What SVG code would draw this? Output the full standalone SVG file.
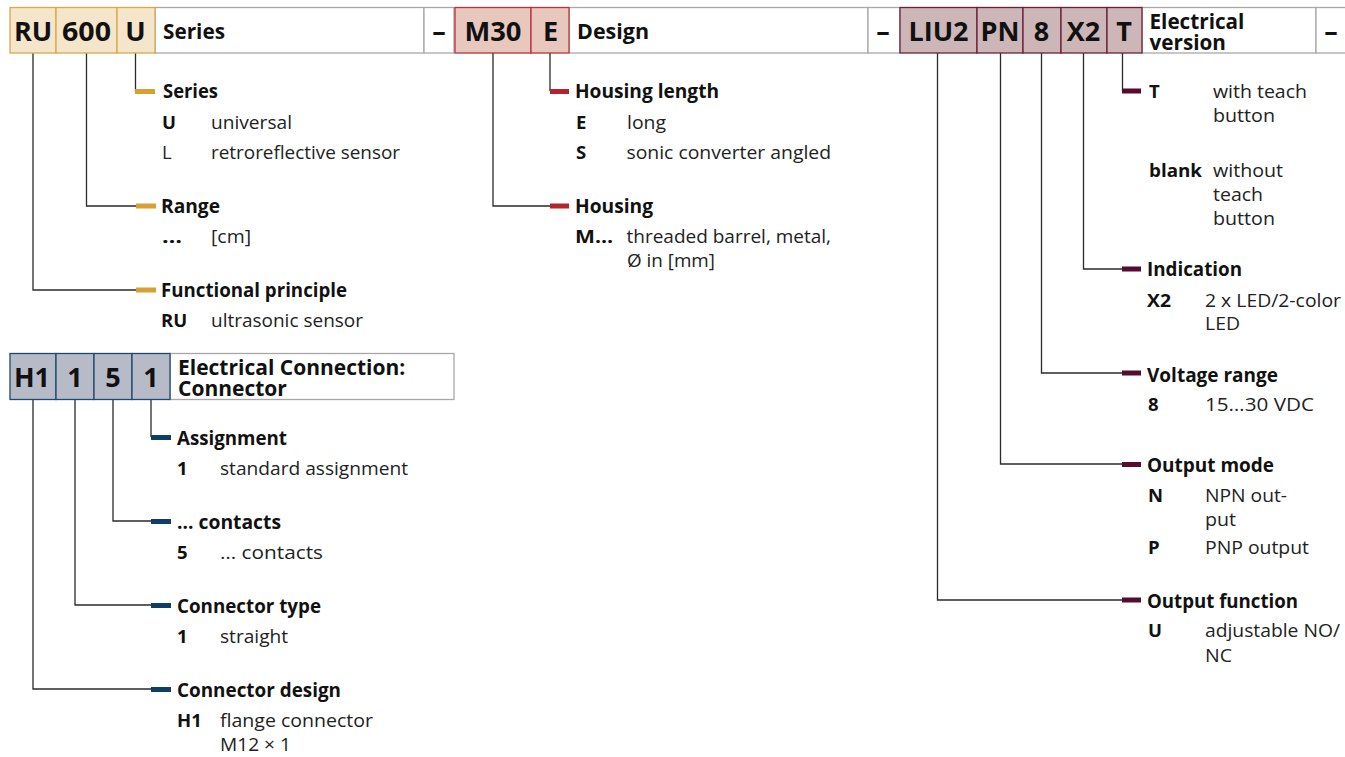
<svg xmlns="http://www.w3.org/2000/svg" width="1345" height="757" viewBox="0 0 1345 757">
<style>
text{font-family:"Open Sans","Noto Sans","Liberation Sans",sans-serif;fill:#111}
.w{fill:#fff;stroke:#a8a8a8;stroke-width:1.3}
.o{fill:#f4e5cb;stroke:#dba84a;stroke-width:1.3}
.r{fill:#e8c8bd;stroke:#b9323c;stroke-width:1.3}
.m{fill:#cdb6b8;stroke:#6b1f3c;stroke-width:1.3}
.b{fill:#b7bbc8;stroke:#1d4a6b;stroke-width:1.3}
.c{font-size:27px;font-weight:700;text-anchor:middle}
.t{font-size:21.5px;font-weight:700}
.x{font-size:27px;font-weight:700;text-anchor:middle}
.h{font-size:19.5px;font-weight:700}
.k{font-size:18.5px;font-weight:700}
.d{font-size:18.5px;font-weight:400;fill:#222}
.l{fill:none;stroke:#2a2a2a;stroke-width:1.3}
.bo{fill:#d99f33}.br{fill:#b5232f}.bm{fill:#560c30}.bb{fill:#0f3d63}
</style>
<g id="connectors">
<path class="l" d="M33 53V290H136"/><path class="l" d="M86.500 53V206H136"/><path class="l" d="M135.500 53V91H136"/>
<path class="l" d="M493 53V206H550"/><path class="l" d="M550 53V91"/>
<path class="l" d="M937.500 53V600H1122"/><path class="l" d="M1000.500 53V464H1122"/><path class="l" d="M1041.500 53V373H1122"/><path class="l" d="M1083.500 53V269H1122"/><path class="l" d="M1122.500 53V91"/>
<path class="l" d="M33 400V689H152"/><path class="l" d="M75 400V605H152"/><path class="l" d="M113 400V521H152"/><path class="l" d="M151 400V437"/>
<rect class="bo" x="135" y="89" width="20" height="5"/><rect class="bo" x="136" y="203.500" width="20" height="5"/><rect class="bo" x="136" y="287.500" width="20" height="5"/>
<rect class="br" x="550" y="89" width="19" height="5"/><rect class="br" x="550" y="203.500" width="19" height="5"/>
<rect class="bm" x="1122" y="88.500" width="19" height="5"/><rect class="bm" x="1122" y="266.500" width="19" height="5"/><rect class="bm" x="1122" y="370.500" width="19" height="5"/><rect class="bm" x="1122" y="462" width="19" height="5"/><rect class="bm" x="1122" y="597.500" width="19" height="5"/>
<rect class="bb" x="151" y="435" width="20" height="5"/><rect class="bb" x="151" y="519" width="20" height="5"/><rect class="bb" x="151" y="603" width="20" height="5"/><rect class="bb" x="151" y="687" width="20" height="5"/>
</g>
<g id="header-ru">
<rect class="w" x="155" y="7.500" width="269" height="45.500"/><rect class="w" x="424" y="7.500" width="30" height="45.500"/>
<rect class="o" x="10" y="7.500" width="46" height="45.500"/><rect class="o" x="56" y="7.500" width="61" height="45.500"/><rect class="o" x="117" y="7.500" width="38" height="45.500"/>
<text class="c" x="33" y="41">RU</text><text class="c" x="86.500" y="41" textLength="49" lengthAdjust="spacingAndGlyphs">600</text><text class="c" x="135.500" y="41">U</text>
<text class="t" x="163" y="39" textLength="62" lengthAdjust="spacingAndGlyphs">Series</text>
<text class="x" x="439" y="41">–</text>
</g>
<g id="header-m30">
<rect class="w" x="569" y="7.500" width="299" height="45.500"/><rect class="w" x="868" y="7.500" width="32" height="45.500"/>
<rect class="r" x="455" y="7.500" width="76" height="45.500"/><rect class="r" x="531" y="7.500" width="38" height="45.500"/>
<text class="c" x="493" y="41" textLength="57" lengthAdjust="spacingAndGlyphs">M30</text><text class="c" x="550.500" y="41">E</text>
<text class="t" x="577" y="39" textLength="72" lengthAdjust="spacingAndGlyphs">Design</text>
<text class="x" x="883" y="41">–</text>
</g>
<g id="header-liu">
<rect class="w" x="1142" y="7.500" width="174" height="45.500"/><rect class="w" x="1316" y="7.500" width="30" height="45.500"/>
<rect class="m" x="900" y="7.500" width="77" height="45.500"/><rect class="m" x="977" y="7.500" width="46" height="45.500"/><rect class="m" x="1023" y="7.500" width="38" height="45.500"/><rect class="m" x="1061" y="7.500" width="46" height="45.500"/><rect class="m" x="1107" y="7.500" width="35" height="45.500"/>
<text class="c" x="938.500" y="41">LIU2</text><text class="c" x="1000" y="41">PN</text><text class="c" x="1041.500" y="41">8</text><text class="c" x="1083.500" y="41">X2</text><text class="c" x="1124" y="41">T</text>
<text class="t" style="font-size:20.700px"><tspan x="1149.500" y="29">Electrical</tspan><tspan x="1149.500" y="50">version</tspan></text>
<text class="x" x="1331" y="41">–</text>
</g>
<g id="header-h1">
<rect class="w" x="170" y="353.500" width="284" height="46"/>
<rect class="b" x="10" y="353.500" width="46" height="46"/><rect class="b" x="56" y="353.500" width="38" height="46"/><rect class="b" x="94" y="353.500" width="38" height="46"/><rect class="b" x="132" y="353.500" width="38" height="46"/>
<text class="c" x="32" y="387">H1</text><text class="c" x="75" y="387">1</text><text class="c" x="113" y="387">5</text><text class="c" x="151" y="387">1</text>
<text class="t" style="font-size:21px"><tspan x="178" y="375">Electrical Connection:</tspan><tspan x="178" y="396">Connector</tspan></text>
</g>
<g id="series">
<text class="h" x="163" y="98" textLength="55" lengthAdjust="spacingAndGlyphs">Series</text>
<text class="k" x="162" y="129">U</text><text class="d" x="211" y="129" textLength="81" lengthAdjust="spacingAndGlyphs">universal</text>
<text class="d" x="162" y="159">L</text><text class="d" x="211" y="159" textLength="189" lengthAdjust="spacingAndGlyphs">retroreflective sensor</text>
</g>
<g id="range">
<text class="h" x="161" y="213" textLength="59" lengthAdjust="spacingAndGlyphs">Range</text>
<text class="k" x="162" y="243" textLength="20" lengthAdjust="spacingAndGlyphs">…</text><text class="d" x="211" y="243" textLength="40" lengthAdjust="spacingAndGlyphs">[cm]</text>
</g>
<g id="functional-principle">
<text class="h" x="161" y="297" textLength="186" lengthAdjust="spacingAndGlyphs">Functional principle</text>
<text class="k" x="161" y="327">RU</text><text class="d" x="211" y="327" textLength="152" lengthAdjust="spacingAndGlyphs">ultrasonic sensor</text>
</g>
<g id="housing-length">
<text class="h" x="575" y="98" textLength="144" lengthAdjust="spacingAndGlyphs">Housing length</text>
<text class="k" x="576" y="129">E</text><text class="d" x="627" y="129" textLength="39" lengthAdjust="spacingAndGlyphs">long</text>
<text class="k" x="576" y="159">S</text><text class="d" x="626.500" y="159" textLength="204.500" lengthAdjust="spacingAndGlyphs">sonic converter angled</text>
</g>
<g id="housing">
<text class="h" x="575" y="213" textLength="78" lengthAdjust="spacingAndGlyphs">Housing</text>
<text class="k" x="575" y="243" textLength="38" lengthAdjust="spacingAndGlyphs">M…</text><text class="d" x="626.500" y="243" textLength="204.500" lengthAdjust="spacingAndGlyphs">threaded barrel, metal,</text>
<text class="d" x="627" y="267" textLength="88" lengthAdjust="spacingAndGlyphs">Ø in [mm]</text>
</g>
<g id="teach">
<text class="k" x="1149" y="98">T</text><text class="d" x="1213" y="98" textLength="94" lengthAdjust="spacingAndGlyphs">with teach</text><text class="d" x="1213" y="122" textLength="62" lengthAdjust="spacingAndGlyphs">button</text>
<text class="k" x="1149" y="177" textLength="53" lengthAdjust="spacingAndGlyphs">blank</text><text class="d" x="1213" y="177" textLength="70" lengthAdjust="spacingAndGlyphs">without</text><text class="d" x="1213" y="201" textLength="50" lengthAdjust="spacingAndGlyphs">teach</text><text class="d" x="1213" y="225" textLength="62" lengthAdjust="spacingAndGlyphs">button</text>
</g>
<g id="indication">
<text class="h" x="1147" y="276" textLength="95" lengthAdjust="spacingAndGlyphs">Indication</text>
<text class="k" x="1147" y="307" textLength="24" lengthAdjust="spacingAndGlyphs">X2</text><text class="d" x="1205" y="307" textLength="136" lengthAdjust="spacingAndGlyphs">2 x LED/2-color</text><text class="d" x="1205" y="330" textLength="35" lengthAdjust="spacingAndGlyphs">LED</text>
</g>
<g id="voltage-range">
<text class="h" x="1147" y="382" textLength="131" lengthAdjust="spacingAndGlyphs">Voltage range</text>
<text class="k" x="1148" y="411">8</text><text class="d" x="1205" y="411" textLength="109" lengthAdjust="spacingAndGlyphs">15…30 VDC</text>
</g>
<g id="output-mode">
<text class="h" x="1147" y="472" textLength="127" lengthAdjust="spacingAndGlyphs">Output mode</text>
<text class="k" x="1148" y="502">N</text><text class="d" x="1205" y="502" textLength="82" lengthAdjust="spacingAndGlyphs">NPN out-</text><text class="d" x="1205" y="526" textLength="31" lengthAdjust="spacingAndGlyphs">put</text>
<text class="k" x="1148" y="554">P</text><text class="d" x="1205" y="554" textLength="104" lengthAdjust="spacingAndGlyphs">PNP output</text>
</g>
<g id="output-function">
<text class="h" x="1147" y="608" textLength="151" lengthAdjust="spacingAndGlyphs">Output function</text>
<text class="k" x="1148" y="637">U</text><text class="d" x="1205" y="637" textLength="135" lengthAdjust="spacingAndGlyphs">adjustable NO/</text><text class="d" x="1205" y="662" textLength="27" lengthAdjust="spacingAndGlyphs">NC</text>
</g>
<g id="assignment">
<text class="h" x="177" y="445" textLength="110" lengthAdjust="spacingAndGlyphs">Assignment</text>
<text class="k" x="177" y="475">1</text><text class="d" x="220" y="475" textLength="188" lengthAdjust="spacingAndGlyphs">standard assignment</text>
</g>
<g id="contacts">
<text class="h" x="177" y="529" textLength="104" lengthAdjust="spacingAndGlyphs">… contacts</text>
<text class="k" x="177" y="559">5</text><text class="d" x="220" y="559" textLength="103" lengthAdjust="spacingAndGlyphs">… contacts</text>
</g>
<g id="connector-type">
<text class="h" x="177" y="613" textLength="144" lengthAdjust="spacingAndGlyphs">Connector type</text>
<text class="k" x="177" y="643">1</text><text class="d" x="220" y="643" textLength="68" lengthAdjust="spacingAndGlyphs">straight</text>
</g>
<g id="connector-design">
<text class="h" x="177" y="697" textLength="164" lengthAdjust="spacingAndGlyphs">Connector design</text>
<text class="k" x="177" y="727">H1</text><text class="d" x="220" y="727" textLength="153" lengthAdjust="spacingAndGlyphs">flange connector</text>
<text class="d" x="220" y="751" textLength="71" lengthAdjust="spacingAndGlyphs">M12 × 1</text>
</g>
</svg>
